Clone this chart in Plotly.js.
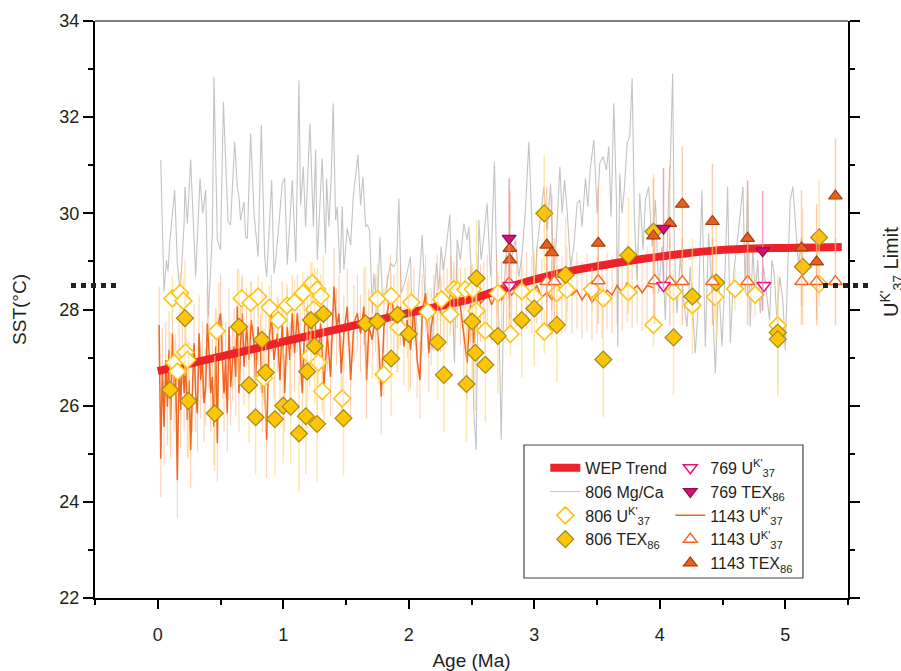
<!DOCTYPE html>
<html>
<head>
<meta charset="utf-8">
<script src="https://cdn.plot.ly/plotly-3.0.1.min.js"></script>
<style>html,body{margin:0;padding:0;background:#fff;}#chart{width:901px;height:671px;}</style>
</head>
<body>
<div id="chart"></div>
<script>
// ---------- DATA ----------
const trendAge = [0, 0.25, 0.5, 0.75, 1.0, 1.25, 1.5, 1.75, 2.0, 2.25, 2.5, 2.75, 3.0, 3.25, 3.5, 3.75, 4.0, 4.25, 4.5, 4.75, 5.0, 5.25, 5.45];
const trendSST = [26.72, 26.87, 27.02, 27.17, 27.33, 27.48, 27.63, 27.78, 27.93, 28.07, 28.22, 28.43, 28.62, 28.78, 28.9, 29.01, 29.1, 29.18, 29.24, 29.27, 29.28, 29.29, 29.3];

const mgAge = [0.024,0.05,0.069,0.082,0.095,0.135,0.156,0.178,0.21,0.217,0.236,0.262,0.302,0.337,0.358,0.382,0.403,0.422,0.435,0.448,0.475,0.50,0.523,0.56,0.58,0.613,0.634,0.647,0.66,0.687,0.70,0.714,0.74,0.767,0.80,0.825,0.852,0.868,0.908,0.926,0.94,0.966,0.992,1.011,1.032,1.072,1.10,1.125,1.138,1.16,1.178,1.213,1.24,1.258,1.271,1.31,1.337,1.345,1.364,1.383,1.398,1.417,1.43,1.452,1.47,1.483,1.51,1.537,1.558,1.595,1.616,1.635,1.656,1.67,1.688,1.71,1.722,1.75,1.77,1.789,1.807,1.823,1.855,1.881,1.903,1.921,1.94,1.974,2.014,2.027,2.054,2.08,2.107,2.134,2.16,2.187,2.205,2.221,2.24,2.258,2.274,2.293,2.311,2.327,2.346,2.364,2.386,2.412,2.439,2.465,2.479,2.497,2.518,2.537,2.558,2.577,2.598,2.624,2.652,2.683,2.705,2.718,2.737,2.758,2.779,2.816,2.85,2.877,2.904,2.93,2.957,2.983,3.002,3.023,3.05,3.076,3.103,3.13,3.156,3.177,3.204,3.222,3.241,3.262,3.289,3.315,3.342,3.363,3.381,3.408,3.427,3.448,3.475,3.501,3.522,3.549,3.575,3.594,3.612,3.634,3.655,3.665,3.681,3.70,3.719,3.74,3.761,3.78,3.798,3.82,3.841,3.867,3.886,3.912,3.939,3.966,3.991,4.018,4.045,4.071,4.084,4.103,4.116,4.137,4.164,4.19,4.217,4.243,4.283,4.31,4.336,4.363,4.389,4.416,4.443,4.469,4.496,4.522,4.541,4.562,4.589,4.615,4.636,4.663,4.681,4.70,4.721,4.742,4.761,4.78,4.801,4.827,4.849,4.875,4.894,4.912,4.934,4.955,4.981,5.0,5.019,5.04,5.061,5.08,5.106,5.13];
const mgSST = [31.11,28.37,29.03,28.79,29.38,30.49,28.96,28.34,29.79,30.55,29.79,31.12,28.68,30.73,30.0,30.49,27.85,29.10,29.58,32.84,29.45,29.24,32.32,29.83,29.76,31.49,30.55,30.35,29.86,30.24,29.51,29.48,31.66,30.0,29.10,31.84,29.10,28.68,30.69,28.75,29.03,29.79,30.62,30.73,28.93,30.69,28.99,32.77,30.17,30.97,29.72,31.87,29.72,31.32,29.03,31.14,29.17,30.73,29.72,30.83,32.29,29.86,30.14,28.75,30.14,28.82,29.69,29.34,30.35,31.21,30.17,30.76,29.72,29.76,29.65,27.92,28.75,27.92,29.51,28.34,28.20,28.48,28.96,28.89,29.0,30.31,28.34,28.61,29.1,27.78,27.5,28.41,29.55,27.99,27.85,27.16,28.41,28.96,28.41,29.31,28.82,29.17,29.62,29.97,28.34,26.88,29.45,29.03,29.79,29.45,29.72,28.89,25.91,25.08,29.86,29.03,29.51,30.21,28.68,31.07,28.34,27.78,25.29,28.34,29.31,29.03,29.45,28.68,29.17,30.07,31.49,29.58,28.41,29.31,30.0,30.55,29.65,30.62,28.68,29.51,30.97,30.0,30.69,30.07,28.89,29.31,30.21,30.28,29.72,30.73,30.14,30.97,31.53,30.0,31.04,31.18,30.90,31.39,29.93,32.29,30.28,27.23,30.83,30.0,30.55,31.46,31.6,32.81,29.86,28.61,30.42,29.24,30.28,30.55,29.31,30.28,28.34,29.31,27.78,30.42,31.04,32.91,29.31,27.92,29.10,28.2,27.64,28.89,27.09,28.2,30.49,27.23,29.58,28.41,26.67,28.61,27.23,28.89,30.55,27.3,28.75,29.31,29.86,30.55,28.34,30.69,27.64,29.31,28.2,29.03,27.92,28.89,28.34,27.78,29.03,28.75,27.78,28.68,28.2,27.16,28.75,30.28,30.55,29.86,28.89,29.5];

const u1143Age = [0.011,0.024,0.037,0.05,0.064,0.077,0.09,0.103,0.117,0.13,0.143,0.156,0.17,0.183,0.196,0.21,0.223,0.236,0.249,0.262,0.276,0.289,0.302,0.316,0.329,0.342,0.355,0.369,0.382,0.395,0.408,0.422,0.435,0.448,0.462,0.475,0.488,0.501,0.515,0.528,0.541,0.554,0.568,0.581,0.595,0.608,0.621,0.634,0.647,0.66,0.674,0.687,0.708,0.727,0.745,0.767,0.78,0.799,0.82,0.833,0.846,0.868,0.886,0.905,0.926,0.953,0.974,0.992,1.011,1.032,1.053,1.072,1.09,1.112,1.133,1.152,1.17,1.191,1.21,1.231,1.25,1.271,1.298,1.324,1.351,1.377,1.404,1.425,1.444,1.462,1.483,1.51,1.537,1.563,1.59,1.616,1.643,1.664,1.682,1.709,1.736,1.762,1.781,1.802,1.828,1.855,1.881,1.908,1.935,1.961,1.988,2.014,2.041,2.067,2.089,2.107,2.134,2.16,2.179,2.2,2.226,2.253,2.28,2.306,2.333,2.359,2.386,2.412,2.439,2.465,2.492,2.518,2.545,2.572,2.598,2.625,2.66,2.70,2.74,2.78,2.82,2.86,2.9,2.94,2.98,3.02,3.06,3.1,3.14,3.18,3.22,3.26,3.3,3.34,3.38,3.42,3.46,3.5,3.54,3.58,3.62,3.66,3.7,3.74,3.78,3.82,3.86,3.9,3.95];
const u1143SST = [27.68,24.9,26.81,25.56,26.95,25.98,27.16,25.70,27.5,26.26,26.67,24.45,26.95,25.91,27.23,26.26,26.9,25.7,26.53,25.08,26.26,27.3,26.26,25.84,27.5,26.53,26.95,26.05,26.39,27.71,27.16,26.26,26.6,25.56,27.23,25.22,27.78,27.92,26.95,26.26,26.95,25.84,27.64,26.39,26.9,27.23,26.6,28.06,26.26,27.3,27.92,26.81,27.64,26.95,27.78,27.3,26.53,27.64,27.09,26.26,26.81,25.29,27.3,27.92,26.95,27.5,26.53,27.78,26.26,27.64,26.95,27.92,27.09,27.92,27.23,26.26,27.64,27.92,27.2,27.64,28.06,26.74,27.71,26.39,27.5,26.6,28.48,27.64,27.92,26.67,27.5,28.06,26.53,27.71,27.92,27.5,28.06,26.53,27.64,27.37,27.92,27.23,26.19,27.64,27.92,28.34,27.92,27.5,28.06,27.23,27.78,27.16,28.06,26.95,26.53,27.92,28.34,27.09,27.64,27.92,28.34,27.92,28.2,28.06,28.34,28.2,28.41,28.06,27.4,26.9,28.1,27.3,28.34,28.13,28.2,28.34,28.1,28.35,28.2,28.4,28.3,28.45,28.25,28.4,28.3,28.5,28.25,28.35,28.2,28.45,28.3,28.5,28.3,28.4,28.2,28.35,28.15,28.3,28.2,28.4,28.3,28.5,28.35,28.55,28.4,28.5,28.35,28.5,28.45];

const uk806Age = [0.117,0.13,0.157,0.178,0.204,0.22,0.236,0.47,0.669,0.74,0.80,0.846,0.89,0.96,1.03,1.09,1.157,1.21,1.23,1.245,1.27,1.28,1.30,1.31,1.47,1.75,1.80,1.86,1.92,2.02,2.15,2.26,2.33,2.36,2.39,2.45,2.51,2.54,2.61,2.71,2.81,2.90,3.0,3.08,3.18,3.26,3.46,3.55,3.75,3.95,4.11,4.26,4.44,4.60,4.76,4.94,5.27];
const uk806SST = [28.23,26.89,26.71,28.34,28.18,27.11,26.95,27.55,28.23,28.14,28.27,26.57,28.04,27.78,28.08,28.15,28.34,27.03,28.55,28.0,28.42,26.9,28.28,26.30,26.15,28.22,26.65,28.28,27.63,28.15,27.95,28.21,27.9,28.42,28.4,28.42,28.42,27.97,27.56,28.34,27.49,28.38,28.27,27.54,28.34,28.41,28.42,28.23,28.36,27.68,28.37,28.09,28.26,28.43,28.31,27.67,28.53];

const tex806Age = [0.098,0.217,0.244,0.454,0.647,0.727,0.78,0.83,0.86,0.934,1.0,1.06,1.125,1.18,1.19,1.22,1.25,1.27,1.32,1.48,1.656,1.75,1.86,1.91,2.0,2.23,2.28,2.46,2.505,2.53,2.54,2.61,2.71,2.90,3.0,3.08,3.18,3.25,3.55,3.75,3.95,4.11,4.26,4.45,4.94,4.94,5.14,5.27];
const tex806SST = [26.33,27.82,26.10,25.84,27.64,26.43,25.76,27.37,26.69,25.72,26.0,25.98,25.42,25.78,26.71,27.78,27.24,25.62,27.91,25.74,27.71,27.75,26.98,27.89,27.49,27.32,26.64,26.45,27.75,27.10,28.65,26.85,27.45,27.78,28.02,30.0,27.68,28.72,26.96,29.13,29.62,27.42,28.27,28.56,27.52,27.38,28.89,29.50];

const uk769Age = [2.805, 4.03, 4.83];
const uk769SST = [28.5, 28.5, 28.5];
const tex769Age = [2.80, 4.03, 4.82];
const tex769SST = [29.48, 29.69, 29.22];

const uk1143Age = [2.80, 3.10, 3.16, 3.51, 3.96, 4.08, 4.18, 4.42, 4.70, 5.13, 5.25, 5.40];
const uk1143SST = [28.55, 28.58, 28.58, 28.6, 28.6, 28.58, 28.58, 28.58, 28.58, 28.58, 28.58, 28.58];
const tex1143Age = [2.805, 2.805, 3.10, 3.14, 3.51, 3.95, 4.08, 4.18, 4.42, 4.70, 5.13, 5.25, 5.40];
const tex1143SST = [29.27, 29.03, 29.34, 29.18, 29.38, 29.53, 29.79, 30.19, 29.83, 29.48, 29.28, 28.99, 30.36];

const ukLimit = 28.5;

// ---------- STYLE ----------
const FONT = 'Arial, "Liberation Sans", sans-serif';
const yel = '#ffc30f', yelErr = 'rgba(255,216,120,0.6)';
const org = '#f26522', orgErr = 'rgba(248,165,115,0.55)';
const mag = '#e2157c', magErr = 'rgba(240,130,170,0.75)';

const traces = [
  {x: mgAge, y: mgSST, mode: 'lines', name: '806 Mg/Ca', line: {color: '#c4c4c4', width: 1.1},
   legend: 'legend', legendrank: 2},
  {x: u1143Age, y: u1143SST, mode: 'lines', name: "1143 U<sup>K'</sup><sub>37</sub>",
   line: {color: org, width: 1.5},
   error_y: {type: 'constant', value: 0.8, color: orgErr, thickness: 1, width: 0},
   legend: 'legend2', legendrank: 3},
  {x: trendAge, y: trendSST, mode: 'lines', name: 'WEP Trend', line: {color: '#ee2229', width: 8, shape: 'spline'},
   legend: 'legend', legendrank: 1},
  {x: uk806Age, y: uk806SST, mode: 'markers', name: "806 U<sup>K'</sup><sub>37</sub>",
   marker: {symbol: 'diamond', size: 13, color: '#ffffff', line: {color: yel, width: 1.6}},
   error_y: {type: 'constant', value: 0.45, color: yelErr, thickness: 1.5, width: 0},
   legend: 'legend', legendrank: 3},
  {x: tex806Age, y: tex806SST, mode: 'markers', name: '806 TEX<sub>86</sub>',
   marker: {symbol: 'diamond', size: 13, color: '#fcc509', line: {color: '#a48a12', width: 1.2}},
   error_y: {type: 'constant', value: 1.2, color: yelErr, thickness: 1.5, width: 0},
   legend: 'legend', legendrank: 4},
  {x: uk1143Age, y: uk1143SST, mode: 'markers', name: "1143 U<sup>K'</sup><sub>37</sub>",
   marker: {symbol: 'triangle-up', size: 12, color: '#ffffff', line: {color: org, width: 1.5}},
   error_y: {type: 'constant', value: 0.9, color: orgErr, thickness: 1.5, width: 0},
   legend: 'legend2', legendrank: 4},
  {x: tex1143Age, y: tex1143SST, mode: 'markers', name: '1143 TEX<sub>86</sub>',
   marker: {symbol: 'triangle-up', size: 12, color: '#e8601c', line: {color: '#a3400e', width: 1.2}},
   error_y: {type: 'constant', value: 1.2, color: orgErr, thickness: 1.5, width: 0},
   legend: 'legend2', legendrank: 5},
  {x: uk769Age, y: uk769SST, mode: 'markers', name: "769 U<sup>K'</sup><sub>37</sub>",
   marker: {symbol: 'triangle-down', size: 12, color: '#ffffff', line: {color: mag, width: 1.5}},
   legend: 'legend2', legendrank: 1},
  {x: tex769Age, y: tex769SST, mode: 'markers', name: '769 TEX<sub>86</sub>',
   marker: {symbol: 'triangle-down', size: 12, color: '#d4127a', line: {color: '#8c0f4d', width: 1.2}},
   error_y: {type: 'constant', value: 1.25, color: magErr, thickness: 1.5, width: 0},
   legend: 'legend2', legendrank: 2}
];

const legendCommon = {
  bgcolor: 'rgba(0,0,0,0)', borderwidth: 0, font: {family: FONT, size: 16, color: '#231f20'},
  xanchor: 'left', yanchor: 'top', tracegroupgap: 0, itemwidth: 30, traceorder: 'normal'
};

const layout = {
  width: 901, height: 671,
  margin: {l: 95, r: 53, t: 21, b: 73},
  paper_bgcolor: '#ffffff', plot_bgcolor: '#ffffff',
  font: {family: FONT, size: 18, color: '#231f20'},
  showlegend: true,
  legend: Object.assign({x: 0.598, y: 0.255}, legendCommon),
  legend2: Object.assign({x: 0.764, y: 0.255}, legendCommon),
  xaxis: {
    range: [-0.5, 5.5], dtick: 1, tick0: 0, showgrid: false, zeroline: false,
    showline: true, linecolor: '#000', linewidth: 2,
    ticks: 'outside', ticklen: 9, tickwidth: 2, tickcolor: '#000',
    minor: {dtick: 0.5, tick0: 0, ticks: 'outside', ticklen: 5, tickwidth: 2, tickcolor: '#000'},
    ticklabelstandoff: 10,
    tickfont: {family: FONT, size: 18, color: '#231f20'},
    title: {text: 'Age (Ma)', font: {family: FONT, size: 19, color: '#231f20'}, standoff: 14}
  },
  yaxis: {
    range: [22, 34], dtick: 2, tick0: 22, showgrid: false, zeroline: false,
    showline: true, linecolor: '#000', linewidth: 2, mirror: 'allticks',
    ticks: 'outside', ticklen: 10, tickwidth: 2, tickcolor: '#000',
    minor: {dtick: 1, tick0: 22, ticks: 'outside', ticklen: 5, tickwidth: 2, tickcolor: '#000'},
    tickfont: {family: FONT, size: 18, color: '#231f20'},
    title: {text: 'SST(°C)', font: {family: FONT, size: 19, color: '#231f20'}, standoff: 28}
  },
  shapes: [
    {type: 'line', xref: 'paper', yref: 'paper', x0: 0, x1: 1, y0: 1, y1: 1, line: {color: '#000', width: 1}},
    {type: 'line', xref: 'paper', yref: 'y', x0: -0.0319, x1: 0.0305, y0: ukLimit, y1: ukLimit,
     line: {color: '#222', width: 5, dash: 'dot'}},
    {type: 'line', xref: 'paper', yref: 'y', x0: 0.9668, x1: 1.029, y0: ukLimit, y1: ukLimit,
     line: {color: '#222', width: 5, dash: 'dot'}},
    {type: 'rect', xref: 'paper', yref: 'paper', x0: 0.5697, x1: 0.9402, y0: 0.0347, y1: 0.2652,
     layer: 'above', fillcolor: '#ffffff', line: {color: '#444', width: 1.2}}
  ],
  annotations: [
    {xref: 'paper', yref: 'paper', x: 1.0585, y: 0.565, text: "U<sup>K'</sup><sub>37</sub> Limit",
     textangle: -90, showarrow: false, xanchor: 'center', yanchor: 'middle',
     font: {family: FONT, size: 20, color: '#231f20'}}
  ]
};

Plotly.newPlot('chart', traces, layout, {displayModeBar: false, staticPlot: true});
</script>
</body>
</html>
